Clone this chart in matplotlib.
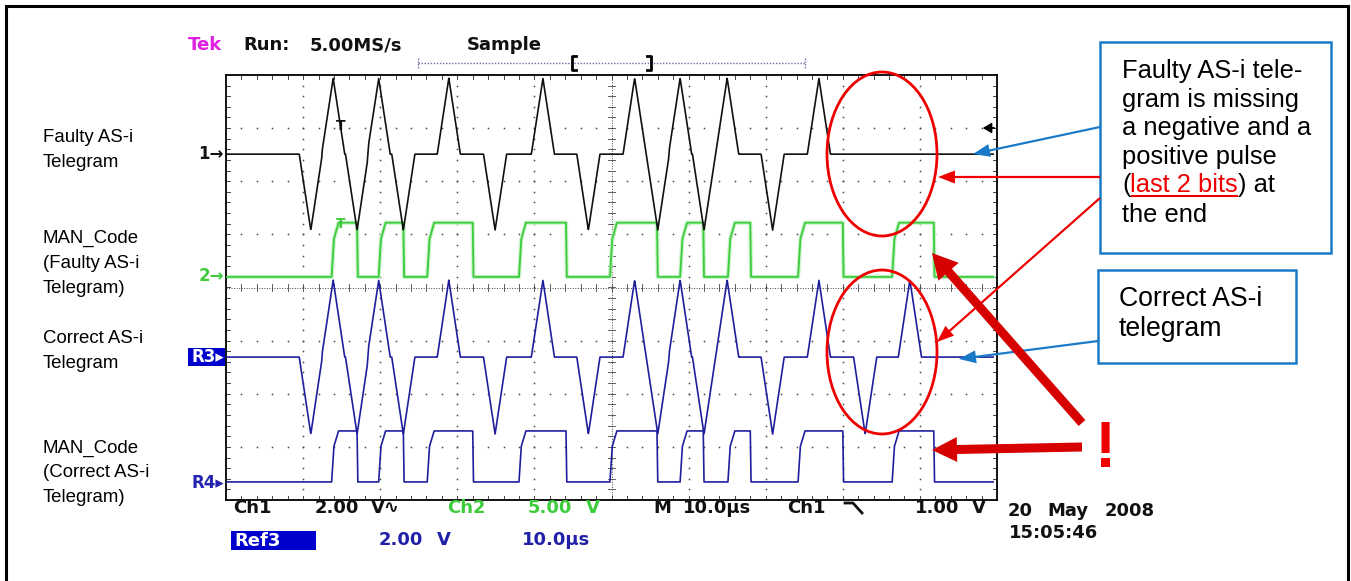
import numpy as np
import matplotlib
matplotlib.use('Agg')
import matplotlib.pyplot as plt
from matplotlib.patches import Rectangle, Ellipse, FancyArrow

W, H = 1351, 581

# ---- data ----
# time in us (10 us/div, 10 div), level in divisions (8 div, centre = 0)
faulty_pulse_t = [11.0, 13.9, 17.0, 19.8, 23.0, 28.9, 34.9, 41.1, 47.0, 53.0,
                  56.0, 58.9, 62.0, 65.0, 70.9, 76.9]
correct_pulse_t = faulty_pulse_t + [82.9, 88.7]   # last 2 bits present
pulse_sign = [-1, 1] * 9                          # negative/positive alternate

man_rise = [13.7, 19.8, 26.1, 38.0, 49.8, 58.9, 65.1, 74.2, 86.4]
man_fall = [17.0, 23.0, 32.0, 44.1, 55.9, 61.9, 68.0, 80.0, 91.8]

ch1_base, ch1_amp = 2.51, 1.43
ch2_base, ch2_amp = 0.20, 1.02
r3_base, r3_amp = -1.31, 1.45
r4_base, r4_amp = -3.66, 0.96

t_end = 99.5
t = np.linspace(0, t_end, 3000)

left_labels = [('Faulty AS-i', 142), ('Telegram', 167),
               ('MAN_Code', 243), ('(Faulty AS-i', 268), ('Telegram)', 293),
               ('Correct AS-i', 343), ('Telegram', 368),
               ('MAN_Code', 453), ('(Correct AS-i', 477), ('Telegram)', 502)]

BLACK = '#111111'
GREEN = '#3ccc3c'
NAVY = '#1f1f9e'
REFBLUE = '#2020a8'
RED = '#ee0000'
DKRED = '#d60000'
BOXBLUE = '#1a7ac8'


def pulse_trace(times, base, amp, hw=1.5):
    y = np.full_like(t, base)
    for t0, s in zip(times, pulse_sign):
        y += s * amp * np.clip(1 - np.abs(t - t0) / hw, 0, None)
    return y


def man_trace(base, amp):
    xs, ys = [0.0], [base]
    for r, f in zip(man_rise, man_fall):
        xs += [r, r + 0.3, r + 0.9, f, f + 0.1]
        ys += [base, base + 0.7 * amp, base + amp, base + amp, base]
    xs.append(t_end)
    ys.append(base)
    return xs, ys


fig = plt.figure(figsize=(W / 100, H / 100), dpi=100)
fig.patch.set_facecolor('white')

# ---- scope screen ----
ax = fig.add_axes([226 / W, 1 - 500 / H, 771 / W, 425 / H])
ax.set_xlim(0, 100)
ax.set_ylim(-4, 4)
ax.set_xticks([])
ax.set_yticks([])
for s in ax.spines.values():
    s.set_linewidth(1.3)
    s.set_color('black')

gcol = '#444444'
minor_x = np.arange(2, 100, 2)
minor_y = np.arange(-3.8, 4, 0.2)
for xv in range(10, 100, 10):
    if xv == 50:
        continue
    ax.plot([xv] * len(minor_y), minor_y, ls='none', marker='s', ms=1.1, mew=0, color=gcol)
for yv in [-3, -2, -1, 1, 2, 3]:
    ax.plot(minor_x, [yv] * len(minor_x), ls='none', marker='s', ms=1.1, mew=0, color=gcol)
# centre cross with small ticks
ax.axvline(50, ls=(0, (1, 1.6)), lw=0.7, color=gcol)
ax.axhline(0, ls=(0, (1, 1.6)), lw=0.7, color=gcol)
for yv in minor_y:
    ax.plot([49.5, 50.5], [yv, yv], lw=0.6, color=gcol)
for xv in minor_x:
    ax.plot([xv, xv], [-0.07, 0.07], lw=0.6, color=gcol)
# edge ticks
for xv in minor_x:
    ax.plot([xv, xv], [3.93, 4], lw=0.7, color=gcol)
    ax.plot([xv, xv], [-4, -3.93], lw=0.7, color=gcol)
for yv in minor_y:
    ax.plot([0, 0.5], [yv, yv], lw=0.7, color=gcol)
    ax.plot([99.5, 100], [yv, yv], lw=0.7, color=gcol)

# traces
ax.plot(t, pulse_trace(faulty_pulse_t, ch1_base, ch1_amp), color=BLACK, lw=1.2, zorder=4)
xs, ys = man_trace(ch2_base, ch2_amp)
ax.plot(xs, ys, color='#c8f2c8', lw=3.0, zorder=2)
ax.plot(xs, ys, color=GREEN, lw=1.3, zorder=3)
ax.plot(t, pulse_trace(correct_pulse_t, r3_base, r3_amp), color=NAVY, lw=1.2, zorder=5)
xs, ys = man_trace(r4_base, r4_amp)
ax.plot(xs, ys, color=NAVY, lw=1.2, zorder=5)

# ---- overlay in pixel coordinates ----
ov = fig.add_axes([0, 0, 1, 1], zorder=10)
ov.set_xlim(0, W)
ov.set_ylim(H, 0)
ov.axis('off')
ov.patch.set_alpha(0)

# outer frame
ov.plot([6, 6, 1348, 1348], [H + 5, 6, 6, H + 5], color='black', lw=2.2, solid_joinstyle='miter')

tek = dict(family='DejaVu Sans', fontweight='bold', fontsize=13, va='center')
ov.text(188, 45, 'Tek', color='#e020e0', **tek)
ov.text(243, 45, 'Run:', color=BLACK, **tek)
ov.text(310, 45, '5.00MS/s', color=BLACK, **tek)
ov.text(467, 45, 'Sample', color=BLACK, **tek)

# record bar
ov.plot([418, 805], [63, 63], ls=(0, (1, 1.2)), lw=1.0, color='#6a6aa8')
ov.plot([418, 418], [58, 68], ls=(0, (1, 1)), lw=1.0, color='#6a6aa8')
ov.plot([805, 805], [58, 68], ls=(0, (1, 1)), lw=1.0, color='#6a6aa8')
ov.plot([576, 572, 572, 576], [56, 56, 70, 70], color='black', lw=2)
ov.plot([647, 651, 651, 647], [56, 56, 70, 70], color='black', lw=2)

# channel markers
mk = dict(family='DejaVu Sans', fontweight='bold', fontsize=12, va='center', ha='right')
ov.text(224, 154, '1\u2192', color=BLACK, **mk)
ov.text(224, 276, '2\u2192', color=GREEN, **mk)
ov.add_patch(Rectangle((188, 348), 37, 18, color='#0000cc', lw=0))
ov.text(224, 357, 'R3\u25b8', color='white', **mk)
ov.text(224, 483, 'R4\u25b8', color='#2424b0', **mk)

# trigger markers
ov.text(341, 126, 'T', color=BLACK, family='DejaVu Sans', fontweight='bold',
        fontsize=10, ha='center', va='center')
ov.text(341, 224, 'T', color=GREEN, family='DejaVu Sans', fontweight='bold',
        fontsize=10, ha='center', va='center')
ov.annotate('', xy=(980, 128), xytext=(997, 128),
            arrowprops=dict(arrowstyle='-|>,head_length=0.5,head_width=0.3',
                            color='black', lw=1.3))

# bottom read-outs
ov.text(233, 508, 'Ch1', color=BLACK, **tek)
ov.text(315, 508, '2.00', color=BLACK, **tek)
ov.text(371, 508, 'V\u223f', color=BLACK, **tek)
ov.text(447, 508, 'Ch2', color=GREEN, **tek)
ov.text(528, 508, '5.00', color=GREEN, **tek)
ov.text(586, 508, 'V', color=GREEN, **tek)
ov.text(653, 508, 'M', color=BLACK, **tek)
ov.text(683, 508, '10.0\u00b5s', color=BLACK, **tek)
ov.text(787, 508, 'Ch1', color=BLACK, **tek)
ov.plot([845, 853, 862], [503, 503, 513], color=BLACK, lw=2)
ov.text(915, 508, '1.00', color=BLACK, **tek)
ov.text(972, 508, 'V', color=BLACK, **tek)
ov.add_patch(Rectangle((231, 531), 85, 19, color='#0000cc', lw=0))
ov.text(234, 541, 'Ref3', color='white', **tek)
ov.text(379, 540, '2.00', color=REFBLUE, **tek)
ov.text(437, 540, 'V', color=REFBLUE, **tek)
ov.text(522, 540, '10.0\u00b5s', color=REFBLUE, **tek)
ov.text(1008, 511, '20', color=BLACK, **tek)
ov.text(1047, 511, 'May', color=BLACK, **tek)
ov.text(1105, 511, '2008', color=BLACK, **tek)
ov.text(1009, 533, '15:05:46', color=BLACK, **tek)

# left labels
for txt, yb in left_labels:
    ov.text(43, yb, txt, family='Liberation Sans', fontsize=13.4, va='baseline', color='black')

# ellipses
ov.add_patch(Ellipse((882, 154), 110, 164, fill=False, ec=RED, lw=2))
ov.add_patch(Ellipse((882, 352), 110, 164, fill=False, ec=RED, lw=2))

# text boxes
ov.add_patch(Rectangle((1100, 42), 231, 211, fill=False, ec=BOXBLUE, lw=1.8))
ov.add_patch(Rectangle((1098, 270), 198, 93, fill=False, ec=BOXBLUE, lw=1.8))

box = dict(family='Liberation Sans', fontsize=18.4, va='baseline', color='black')
for txt, yb in [('Faulty AS-i tele-', 78.3), ('gram is missing', 106.8),
                ('a negative and a', 135.3), ('positive pulse', 163.8),
                ('the end', 221.7)]:
    ov.text(1122, yb, txt, **box)
rend = fig.canvas.get_renderer()
p1 = ov.text(1122, 192.3, '(', **box)
x1 = p1.get_window_extent(rend).x1
p2 = ov.text(x1, 192.3, 'last 2 bits', **dict(box, color=RED))
x2 = p2.get_window_extent(rend).x1
ov.plot([x1 + 1, x2 - 1], [196, 196], color=RED, lw=1.5)
ov.text(x2, 192.3, ') at', **box)

box2 = dict(box, fontsize=19.2)
ov.text(1119, 306, 'Correct AS-i', **box2)
ov.text(1119, 336, 'telegram', **box2)

# thin arrows
ov.add_patch(FancyArrow(1100, 127, 973 - 1100, 154 - 127, width=2.2, head_width=13,
                        head_length=17, length_includes_head=True, color=BOXBLUE, lw=0))
ov.add_patch(FancyArrow(1098, 341, 959 - 1098, 359 - 341, width=2.2, head_width=13,
                        head_length=17, length_includes_head=True, color=BOXBLUE, lw=0))
ov.add_patch(FancyArrow(1100, 177, 938 - 1100, 0, width=2.2, head_width=13,
                        head_length=17, length_includes_head=True, color=RED, lw=0))
ov.add_patch(FancyArrow(1100, 198, 937 - 1100, 342 - 198, width=2.2, head_width=13,
                        head_length=17, length_includes_head=True, color=RED, lw=0))

# thick arrows
ov.add_patch(FancyArrow(1082, 423, 932 - 1082, 253 - 423, width=9, head_width=27,
                        head_length=25, length_includes_head=True, color=DKRED, lw=0))
ov.add_patch(FancyArrow(1082, 447, 932 - 1082, 450 - 447, width=9, head_width=25,
                        head_length=25, length_includes_head=True, color=DKRED, lw=0))
ov.text(1106, 467, '!', color=RED, family='Liberation Sans', fontweight='bold',
        fontsize=46, ha='center', va='baseline')

fig.savefig('out.png', dpi=100)
